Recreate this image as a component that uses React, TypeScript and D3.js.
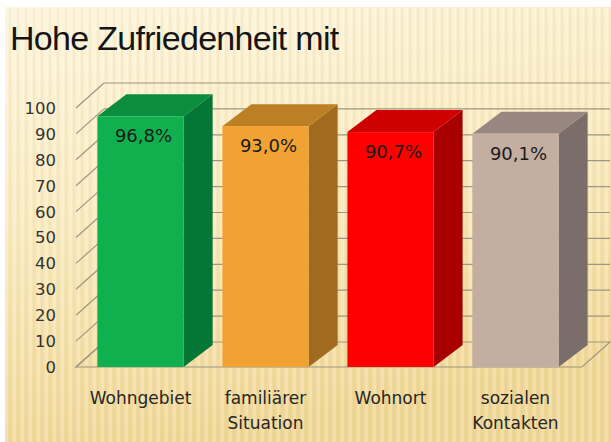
import React from "react";
import * as d3 from "d3";

const categories = ["Wohngebiet", "familiärer Situation", "Wohnort", "sozialen Kontakten"];
const categoryLines = [["Wohngebiet"], ["familiärer", "Situation"], ["Wohnort"], ["sozialen", "Kontakten"]];
const values = [96.8, 93.0, 90.7, 90.1];
const valueLabels = ["96,8%", "93,0%", "90,7%", "90,1%"];
const yTicks = [0, 10, 20, 30, 40, 50, 60, 70, 80, 90, 100];
const title = "Hohe Zufriedenheit mit";

const frontColors = ["#10b04e", "#f0a332", "#ff0000", "#c4aea2"];
const topColors = ["#0a8e3e", "#bd7f26", "#cf0000", "#988780"];
const sideColors = ["#047636", "#a26a1e", "#a80000", "#7b6d69"];

const W = 611;
const H = 442;

export default function App() {
  const x = d3.scaleBand<string>().domain(categories).range([78, 578]).paddingInner(0.31).paddingOuter(0.155);
  const y = d3.scaleLinear().domain([0, 100]).range([367, 108]);
  const wallDx = 28, wallDy = -25;
  const barDx = 29, barDy = -22;
  const floorL = 76, floorR = 582;
  const gridColor = "#9e9682";

  const stripes = d3.range(0, W, 8);

  return (
    <svg width={W} height={H} style={{ display: "block", position: "absolute", left: 0, top: 0 }}>
      <defs>
        <linearGradient id="bg" x1="0" y1="0" x2="0.25" y2="1">
          <stop offset="0" stopColor="#fcf4dc" />
          <stop offset="0.45" stopColor="#f9ebc2" />
          <stop offset="1" stopColor="#f0d797" />
        </linearGradient>
      </defs>
      <rect x={0} y={0} width={W} height={H} fill="#ffffff" />
      <rect x={5} y={7} width={W - 5} height={H - 7} fill="url(#bg)" />
      {stripes.map((s) => (
        <rect key={s} x={5 + s} y={7} width={3} height={H - 7} fill="#ffffff" opacity={0.22} />
      ))}
      {stripes.map((s) => (
        <rect key={"d" + s} x={9 + s} y={7} width={2} height={H - 7} fill="#c8a860" opacity={0.09} />
      ))}

      <text x={10} y={50} fontFamily="Liberation Sans, Arial, sans-serif" fontSize={34} letterSpacing={-0.7} fill="#151515">
        {title}
      </text>

      {/* floor */}
      <polygon
        points={[
          [floorL, y(0)],
          [floorR, y(0)],
          [floorR + wallDx, y(0) + wallDy],
          [floorL + wallDx, y(0) + wallDy],
        ].map((p) => p.join(",")).join(" ")}
        fill="none"
        stroke={gridColor}
        strokeWidth={1.2}
      />
      {/* gridlines */}
      {yTicks.map((t) => (
        <g key={t}>
          <line x1={floorL} y1={y(t)} x2={floorL + wallDx} y2={y(t) + wallDy} stroke={gridColor} strokeWidth={1.2} />
          {t > 0 && (
            <line x1={floorL + wallDx} y1={y(t) + wallDy} x2={floorR + wallDx} y2={y(t) + wallDy} stroke={gridColor} strokeWidth={1.2} />
          )}
          <text
            x={56}
            y={y(t)}
            dy="0.36em"
            textAnchor="end"
            fontFamily="DejaVu Sans, Verdana, sans-serif"
            fontSize={16.5}
            fill="#333333"
          >
            {t}
          </text>
        </g>
      ))}

      {/* bars */}
      {categories.map((c, i) => {
        const x0 = x(c) as number;
        const x1 = x0 + x.bandwidth();
        const yt = y(values[i]);
        const yb = y(0);
        return (
          <g key={c}>
            <polygon
              points={[[x1, yt], [x1 + barDx, yt + barDy], [x1 + barDx, yb + barDy], [x1, yb]].map((p) => p.join(",")).join(" ")}
              fill={sideColors[i]}
            />
            <polygon
              points={[[x0, yt], [x1, yt], [x1 + barDx, yt + barDy], [x0 + barDx, yt + barDy]].map((p) => p.join(",")).join(" ")}
              fill={topColors[i]}
            />
            <rect x={x0} y={yt} width={x.bandwidth()} height={yb - yt} fill={frontColors[i]} />
            <text
              x={x0 + x.bandwidth() / 2 + 3}
              y={yt + 26}
              textAnchor="middle"
              fontFamily="DejaVu Sans, Verdana, sans-serif"
              fontSize={18}
              fill="#1a1a1a"
            >
              {valueLabels[i]}
            </text>
          </g>
        );
      })}

      {/* category labels */}
      {categories.map((c, i) => (
        <text
          key={c}
          x={(x(c) as number) + x.bandwidth() / 2}
          y={404}
          textAnchor="middle"
          fontFamily="DejaVu Sans, Verdana, sans-serif"
          fontSize={17}
          fill="#262626"
        >
          {categoryLines[i].map((l, j) => (
            <tspan key={j} x={(x(c) as number) + x.bandwidth() / 2} dy={j === 0 ? 0 : 25}>
              {l}
            </tspan>
          ))}
        </text>
      ))}
    </svg>
  );
}
